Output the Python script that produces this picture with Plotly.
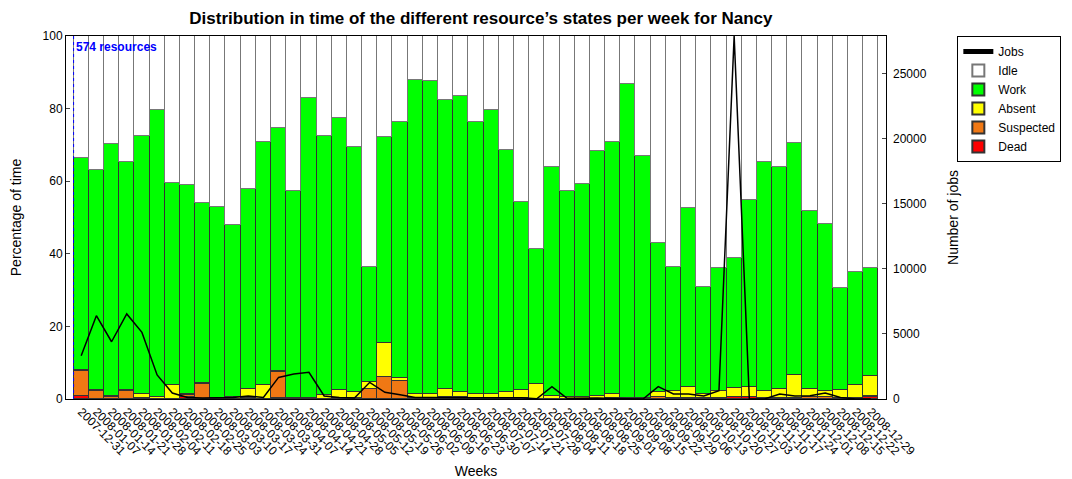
import plotly.graph_objects as go

weeks = ["2007-12-31", "2008-01-07", "2008-01-14", "2008-01-21", "2008-01-28", "2008-02-04",
         "2008-02-11", "2008-02-18", "2008-02-25", "2008-03-03", "2008-03-10", "2008-03-17",
         "2008-03-24", "2008-03-31", "2008-04-07", "2008-04-14", "2008-04-21", "2008-04-28",
         "2008-05-05", "2008-05-12", "2008-05-19", "2008-05-26", "2008-06-02", "2008-06-09",
         "2008-06-16", "2008-06-23", "2008-06-30", "2008-07-07", "2008-07-14", "2008-07-21",
         "2008-07-28", "2008-08-04", "2008-08-11", "2008-08-18", "2008-08-25", "2008-09-01",
         "2008-09-08", "2008-09-15", "2008-09-22", "2008-09-29", "2008-10-06", "2008-10-13",
         "2008-10-20", "2008-10-27", "2008-11-03", "2008-11-10", "2008-11-17", "2008-11-24",
         "2008-12-01", "2008-12-08", "2008-12-15", "2008-12-22", "2008-12-29"]

dead = [0.8, 0.1, 0.1, 0.1, 0.1, 0.0, 0.0, 0.5, 0.1, 0.0, 0.0, 0.1, 0.0, 0.2, 0.0, 0.0, 0.0, 0.1,
        0.0, 0.0, 0.0, 0.0, 0.0, 0.0, 0.0, 0.0, 0.0, 0.0, 0.0, 0.0, 0.0, 0.0, 0.0, 0.0, 0.0, 0.0,
        0.0, 0.0, 0.0, 0.0, 0.0, 0.0, 0.0, 0.5, 0.5, 0.0, 0.0, 0.0, 0.0, 0.0, 0.0, 0.0, 0.5]
suspected = [6.8, 2.0, 0.4, 2.0, 0.3, 0.1, 0.1, 0.6, 3.9, 0.1, 0.1, 0.2, 0.1, 7.2, 0.2, 0.2, 0.1, 0.3,
             0.3, 2.8, 6.0, 5.0, 0.3, 0.3, 0.5, 0.6, 0.3, 0.3, 0.3, 0.4, 0.1, 0.1, 0.1, 0.1, 0.1, 0.2,
             0.1, 0.1, 0.5, 0.2, 0.2, 0.2, 0.2, 0.1, 0.1, 0.2, 0.3, 0.2, 0.5, 0.5, 0.3, 0.3, 0.2]
absent = [0.3, 0.4, 0.2, 0.5, 1.0, 0.5, 3.8, 0.3, 0.5, 0.2, 0.4, 2.5, 3.8, 0.4, 0.2, 0.2, 1.0, 2.1,
          1.5, 2.0, 9.3, 0.7, 1.0, 1.2, 2.3, 1.4, 1.1, 1.1, 1.7, 2.1, 4.0, 0.8, 0.4, 0.5, 0.6, 1.2,
          0.2, 0.2, 1.5, 2.1, 3.0, 1.3, 2.1, 2.4, 2.6, 2.1, 2.5, 6.4, 2.3, 1.7, 2.3, 3.6, 5.6]
work = [58.5, 60.7, 69.6, 62.7, 71.0, 78.9, 55.7, 57.5, 49.5, 52.5, 47.5, 55.1, 66.9, 66.8, 57.0, 82.6, 71.4, 75.0,
        67.6, 31.5, 56.8, 70.5, 86.7, 86.0, 79.5, 81.4, 74.8, 78.1, 66.5, 51.9, 37.3, 63.0, 56.9, 58.6, 67.5, 69.3,
        86.6, 66.6, 41.1, 34.1, 49.5, 29.3, 33.9, 35.8, 51.6, 63.1, 61.1, 63.9, 48.9, 46.1, 28.1, 31.0, 29.9]
idle = [round(100 - d - s - a - w, 1) for d, s, a, w in zip(dead, suspected, absent, work)]
jobs = [3330, 6400, 4400, 6540, 5120, 1850, 460, 120, 80, 80, 120, 230, 120, 1660, 1920, 2050, 230, 120,
        80, 1280, 510, 330, 120, 120, 100, 100, 100, 100, 100, 100, 20, 950, 50, 80, 80, 40,
        0, 0, 950, 390, 390, 230, 640, 27900, 0, 0, 390, 230, 250, 460, 120, 0, 0]
jobs_ticks = [0, 5000, 10000, 15000, 20000, 25000]
pct_ticks = [0, 20, 40, 60, 80, 100]

x = list(range(len(weeks)))
FONT = "Liberation Sans, Arial, sans-serif"

fig = go.Figure()
series = [("Dead", dead, "#FF0000", "#333333"),
          ("Suspected", suspected, "#F07814", "#333333"),
          ("Absent", absent, "#FFFF00", "#333333"),
          ("Work", work, "#00FF00", "#333333"),
          ("Idle", idle, "#FFFFFF", "#777777")]
for name, vals, col, lc in series:
    fig.add_trace(go.Bar(x=x, y=vals, name=name, width=1.0,
                         marker=dict(color=col, line=dict(color=lc, width=1))))
fig.add_trace(go.Scatter(x=x, y=jobs, name="Jobs", mode="lines", yaxis="y2",
                         line=dict(color="black", width=1.5)))

fig.add_shape(type="line", xref="x", yref="y", x0=-0.5, x1=-0.5, y0=0, y1=100,
              line=dict(color="blue", width=1, dash="dot"))
fig.add_annotation(xref="x", yref="y", x=-0.5, y=99.5, text="<b>574 resources</b>", showarrow=False,
                   xanchor="left", yanchor="top", font=dict(color="blue", size=12, family=FONT))

fig.update_layout(
    width=1064, height=471,
    margin=dict(l=58, r=186, t=28, b=80, autoexpand=False),
    barmode="stack", bargap=0,
    plot_bgcolor="white", paper_bgcolor="white",
    font=dict(family=FONT, size=12, color="black"),
    title=dict(text="<b>Distribution in time of the different resource’s states per week for Nancy</b>",
               x=0.506, xref="paper", xanchor="center", y=0.979, yanchor="middle",
               font=dict(size=17, color="black")),
    xaxis=dict(range=[-1, 53], tickmode="array", tickvals=x, ticktext=weeks, tickangle=45,
               showline=True, linecolor="black", mirror=True, ticks="", showgrid=False,
               automargin=False, title=dict(text="Weeks", standoff=10), tickfont=dict(size=12)),
    yaxis=dict(range=[0, 100], tickmode="array", tickvals=pct_ticks, showline=True, linecolor="black",
               mirror=True, ticks="inside", ticklen=4, showgrid=False, zeroline=False,
               automargin=False, title=dict(text="Percentage of time", standoff=18)),
    yaxis2=dict(range=[0, 27900], overlaying="y", side="right", tickmode="array",
                tickvals=jobs_ticks, ticktext=[str(v) for v in jobs_ticks], ticks="inside", ticklen=4,
                ticklabelstandoff=6,
                showgrid=False, zeroline=False, showline=False, automargin=False,
                title=dict(text="Number of jobs", standoff=22)),
    legend=dict(x=1.087, y=1.0, xanchor="left", yanchor="top", traceorder="reversed",
                bordercolor="black", borderwidth=1, bgcolor="white",
                font=dict(size=12), tracegroupgap=0, itemsizing="constant"),
)

fig.write_html("out.html")
